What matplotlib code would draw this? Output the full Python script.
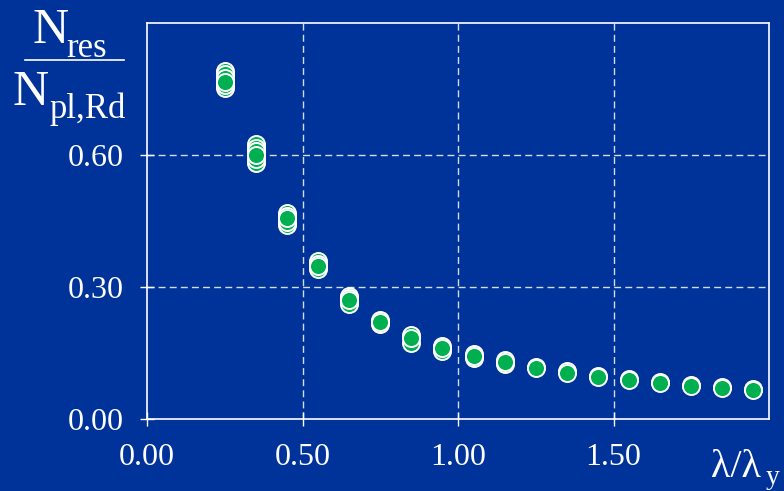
import matplotlib
matplotlib.use("Agg")
import matplotlib.pyplot as plt
from matplotlib.lines import Line2D

# Relative slenderness groups and the resistance ratios measured at each one
slenderness = [0.25, 0.35, 0.45, 0.55, 0.65, 0.75, 0.85, 0.95, 1.05,
               1.15, 1.25, 1.35, 1.45, 1.55, 1.65, 1.75, 1.85, 1.95]
resistance = [
    [0.792, 0.783, 0.753, 0.760, 0.775, 0.766],
    [0.624, 0.615, 0.582, 0.590, 0.608, 0.600],
    [0.469, 0.462, 0.440, 0.447, 0.457],
    [0.358, 0.353, 0.340, 0.348],
    [0.280, 0.275, 0.262, 0.270],
    [0.226, 0.215, 0.220],
    [0.192, 0.172, 0.184],
    [0.167, 0.155, 0.161],
    [0.147, 0.139, 0.143],
    [0.133, 0.125, 0.129],
    [0.119, 0.116],
    [0.108, 0.105],
    [0.098, 0.096],
    [0.091, 0.089],
    [0.084, 0.082],
    [0.078, 0.076],
    [0.073, 0.071],
    [0.068, 0.066],
]
x_ticks = [0.0, 0.5, 1.0, 1.5]
x_tick_labels = ["0.00", "0.50", "1.00", "1.50"]
y_ticks = [0.0, 0.3, 0.6]
y_tick_labels = ["0.00", "0.30", "0.60"]

BG = "#003399"
GREEN = "#00b050"
W, H = 784, 491

plt.rcParams["font.family"] = ["Liberation Serif", "DejaVu Serif"]

fig = plt.figure(figsize=(W / 100, H / 100), dpi=100, facecolor=BG)
ax = fig.add_axes([147 / W, (H - 419) / H, 622 / W, 396 / H], facecolor=BG)

for xv, ys in zip(slenderness, resistance):
    ax.scatter([xv] * len(ys), ys, s=150, c=GREEN, edgecolors="white",
               linewidths=1.4, zorder=3)

ax.set_xlim(0, 2.0)
ax.set_ylim(0, 0.9)
ax.set_xticks(x_ticks)
ax.set_xticklabels(x_tick_labels)
ax.set_yticks(y_ticks)
ax.set_yticklabels(y_tick_labels)

for sp in ax.spines.values():
    sp.set_color("white")
    sp.set_linewidth(1.2)

ax.tick_params(direction="inout", length=10, width=1, colors="white",
               labelsize=23, pad=12)

for xv in x_ticks[1:]:
    ax.axvline(xv, color="#d4dbef", lw=1, ls=(0, (5, 3)), zorder=1)
for yv in y_ticks[1:]:
    ax.axhline(yv, color="#d4dbef", lw=1, ls=(0, (5, 3)), zorder=1)


def fx(px):
    return px / W


def fy(py):
    return (H - py) / H


# Y-axis label drawn as a stacked fraction
fig.text(fx(33), fy(43), "N", color="white", fontsize=36, va="baseline", ha="left")
fig.text(fx(66), fy(57), "res", color="white", fontsize=25, va="baseline", ha="left")
fig.add_artist(Line2D([fx(25), fx(124)], [fy(60), fy(60)], color="white", lw=1.2,
                      transform=fig.transFigure))
fig.text(fx(13), fy(105), "N", color="white", fontsize=36, va="baseline", ha="left")
fig.text(fx(50), fy(118), "pl,Rd", color="white", fontsize=25, va="baseline", ha="left")

# X-axis label
fig.text(fx(711), fy(477), "λ/λ", color="white", fontsize=29, va="baseline", ha="left")
fig.text(fx(766), fy(484), "y", color="white", fontsize=20, va="baseline", ha="left")

fig.savefig("out.png", dpi=100, facecolor=BG)
